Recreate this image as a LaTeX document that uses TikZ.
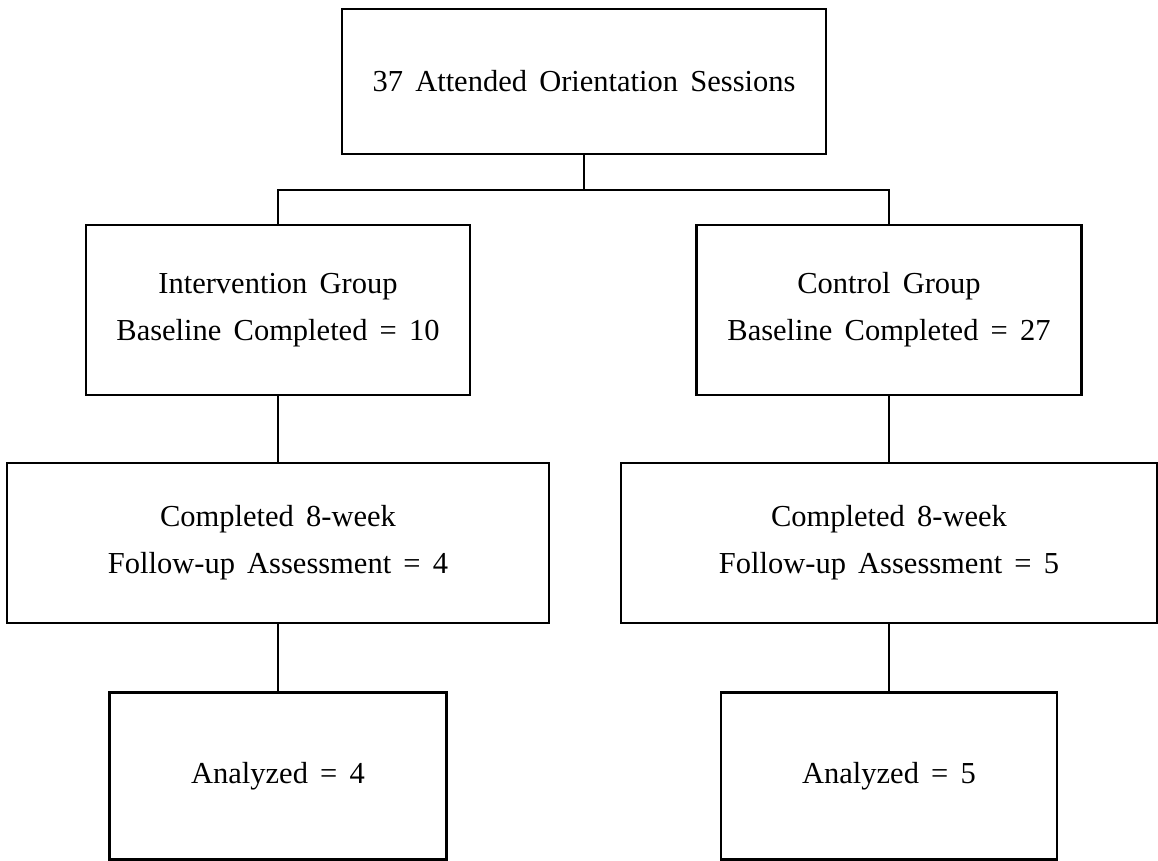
\documentclass[tikz,border=0pt]{standalone}
\usepackage{fontspec}
\setmainfont{Liberation Serif}[WordSpace=1.6]
\begin{document}
\begin{tikzpicture}[x=1pt,y=-1pt,
  box/.style={draw=black, line width=2.6pt, rectangle, inner sep=0pt, align=center,
    font=\fontsize{30.5}{47}\selectfont},
  link/.style={draw=black, line width=2.6pt}]
\useasboundingbox (0,0) rectangle (1158,861);
\node[box, minimum width=484pt, minimum height=145pt] (top) at (584,81.5) {37 Attended Orientation Sessions};
\node[box, minimum width=384pt, minimum height=170pt] (iL) at (278,310) {Intervention Group\\Baseline Completed = 10};
\node[box, minimum width=385pt, minimum height=170pt] (iR) at (889,310) {Control Group\\Baseline Completed = 27};
\node[box, minimum width=542pt, minimum height=160pt] (fL) at (278,543) {Completed 8-week\\Follow-up Assessment = 4};
\node[box, minimum width=536pt, minimum height=160pt] (fR) at (889,543) {Completed 8-week\\Follow-up Assessment = 5};
\node[box, minimum width=337pt, minimum height=167pt] (aL) at (278,776) {Analyzed = 4};
\node[box, minimum width=336pt, minimum height=167pt] (aR) at (889,776) {Analyzed = 5};
\coordinate (j) at (584,190);
\draw[link] (top.south) -- (j);
\draw[link] (iL.north) |- (j) -| (iR.north);
\draw[link] (iL.south) -- (fL.north);
\draw[link] (iR.south) -- (fR.north);
\draw[link] (fL.south) -- (aL.north);
\draw[link] (fR.south) -- (aR.north);
\end{tikzpicture}
\end{document}
